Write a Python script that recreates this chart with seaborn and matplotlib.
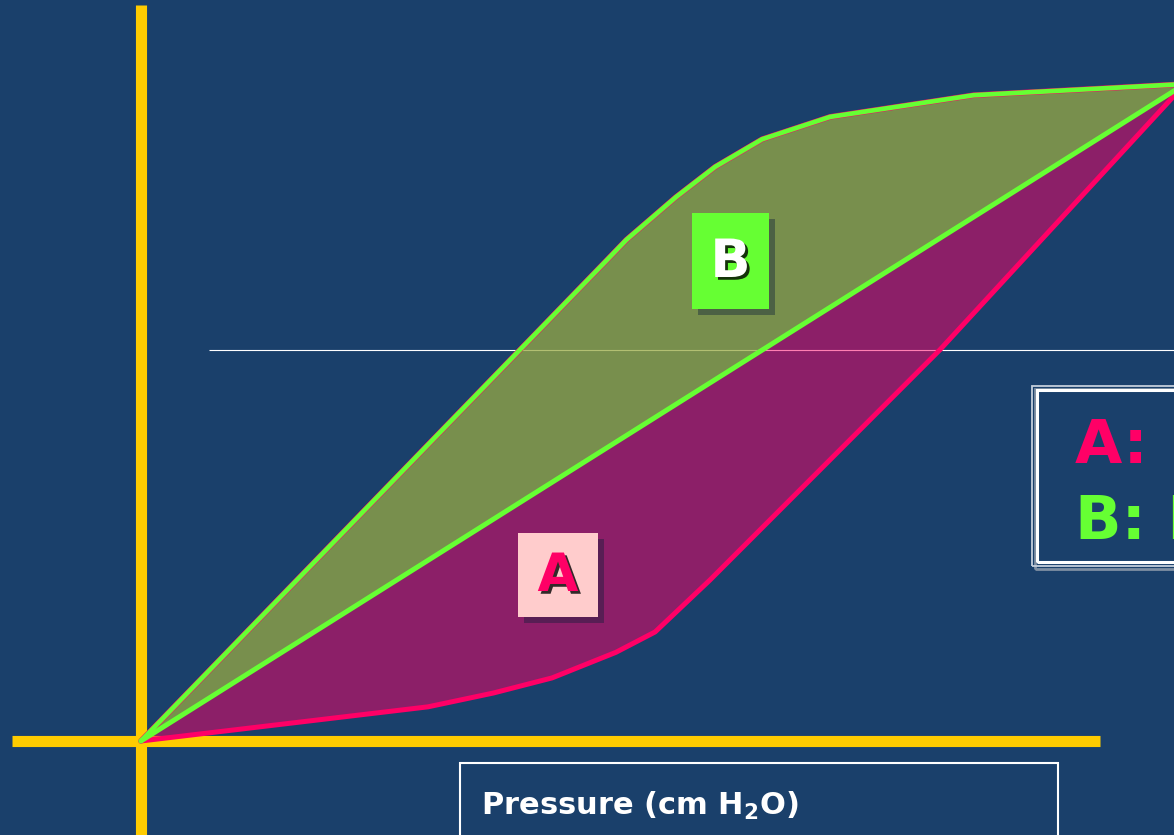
import numpy as np
import matplotlib
matplotlib.use("Agg")
import matplotlib.pyplot as plt
import matplotlib.patheffects as pe
from matplotlib.patches import Rectangle
import seaborn as sns

# pressure (cm H2O) / volume (% of max)
insp_p = [0.0, 11.0, 13.5, 15.75, 18.2, 19.7, 21.8, 30.6, 40.0]
insp_v = [0.0, 5.2, 7.3, 9.6, 13.5, 16.6, 24.5, 59.5, 100.0]
exp_p = [0.0, 17.85, 18.6, 20.5, 22.0, 23.8, 26.4, 31.9, 40.0]
exp_v = [0.0, 73.2, 76.3, 82.8, 87.4, 91.6, 95.0, 98.3, 100.0]
diag_p = [0.0, 40.0]
diag_v = [0.0, 100.0]
ref_v = 59.5
ref_start = 2.6

etiquetas = ["A", "B"]
leyenda = ["A: Inspiratory work", "B: Expiratory work"]
eje_x = r"Pressure (cm H$\mathbf{_2}$O)"

fondo = "#1a406b"
amarillo = "#ffcc00"
rosa = "#ff0066"
verde = "#66ff33"

sns.set_theme(style="white")
plt.rcParams["font.family"] = ["DejaVu Sans"]

W, H = 1174, 835
fig = plt.figure(figsize=(W / 100, H / 100), dpi=100)
fig.patch.set_facecolor(fondo)
ax = fig.add_axes([0, 0, 1, 1])
ax.set_facecolor(fondo)
ax.set_xlim(-5.40, 39.58)
ax.set_ylim(-14.31, 112.79)
ax.axis("off")


def fx(x):
    return x / W


def fy(y):
    return 1 - y / H


# ejes amarillos
ax.axvline(0, ymin=0, ymax=1 - 5 / H, color=amarillo, lw=8, solid_capstyle="butt", zorder=1)
ax.axhline(0, xmin=12 / W, xmax=1100 / W, color=amarillo, lw=8, solid_capstyle="butt", zorder=1)

# linea de referencia
ax.hlines(ref_v, ref_start, 45, color="white", lw=0.8, zorder=1)

# rellenos
loop_x = np.concatenate([insp_p, exp_p[::-1]])
loop_y = np.concatenate([insp_v, exp_v[::-1]])
ax.fill(loop_x, loop_y, color=rosa, alpha=0.5, lw=0, zorder=2)
b_x = np.concatenate([diag_p, exp_p[::-1]])
b_y = np.concatenate([diag_v, exp_v[::-1]])
ax.fill(b_x, b_y, color=verde, alpha=0.5, lw=0, zorder=2)

# curvas
sns.lineplot(x=insp_p, y=insp_v, sort=False, color=rosa, lw=3.6, ax=ax, zorder=3)
sns.lineplot(x=exp_p, y=exp_v, sort=False, color=rosa, lw=4.0, ax=ax, zorder=3)
sns.lineplot(x=exp_p, y=exp_v, sort=False, color=verde, lw=3.4, ax=ax, zorder=4)
sns.lineplot(x=diag_p, y=diag_v, sort=False, color=verde, lw=3.6, ax=ax, zorder=4)

sombra_caja = [pe.SimplePatchShadow(offset=(4, -4), shadow_rgbFace="#0b1e38", alpha=0.4), pe.Normal()]
sombra_txt = [pe.SimplePatchShadow(offset=(2, -2), shadow_rgbFace="black", alpha=0.8), pe.Normal()]

# caja B
fig.patches.append(Rectangle((fx(692), fy(309)), 77 / W, 96 / H, transform=fig.transFigure,
                             facecolor=verde, edgecolor="none", path_effects=sombra_caja, zorder=5))
fig.text(fx(730.5), fy(262), etiquetas[1], color="white", fontsize=38, fontweight="bold",
         ha="center", va="center", path_effects=sombra_txt, zorder=6)

# caja A
fig.patches.append(Rectangle((fx(518), fy(617)), 80 / W, 84 / H, transform=fig.transFigure,
                             facecolor="#ffcccc", edgecolor="none", path_effects=sombra_caja, zorder=5))
fig.text(fx(558), fy(576), etiquetas[0], color=rosa, fontsize=38, fontweight="bold",
         ha="center", va="center", path_effects=sombra_txt, zorder=6)

# leyenda (doble borde con sombra gris)
fig.patches.append(Rectangle((fx(1035), fy(569)), 200 / W, 180 / H, transform=fig.transFigure,
                             facecolor="none", edgecolor="#7f8fa3", lw=2.0, zorder=4))
fig.patches.append(Rectangle((fx(1032), fy(566)), 200 / W, 180 / H, transform=fig.transFigure,
                             facecolor="none", edgecolor="#c4cedb", lw=1.3, zorder=5))
fig.patches.append(Rectangle((fx(1037), fy(562)), 200 / W, 172 / H, transform=fig.transFigure,
                             facecolor="none", edgecolor="white", lw=2.2, zorder=5))
fig.text(fx(1075), fy(463), leyenda[0], color=rosa, fontsize=44, fontweight="bold",
         ha="left", va="baseline", zorder=6)
fig.text(fx(1075), fy(539), leyenda[1], color=verde, fontsize=44, fontweight="bold",
         ha="left", va="baseline", zorder=6)

# titulo eje x
fig.patches.append(Rectangle((fx(460), fy(860)), 598 / W, 97 / H, transform=fig.transFigure,
                             facecolor="none", edgecolor="white", lw=1.5, zorder=5))
fig.text(fx(481), fy(815), eje_x, color="white", fontsize=22, fontweight="bold",
         ha="left", va="baseline", zorder=6)

fig.savefig("out.png", dpi=100, facecolor=fig.get_facecolor())
